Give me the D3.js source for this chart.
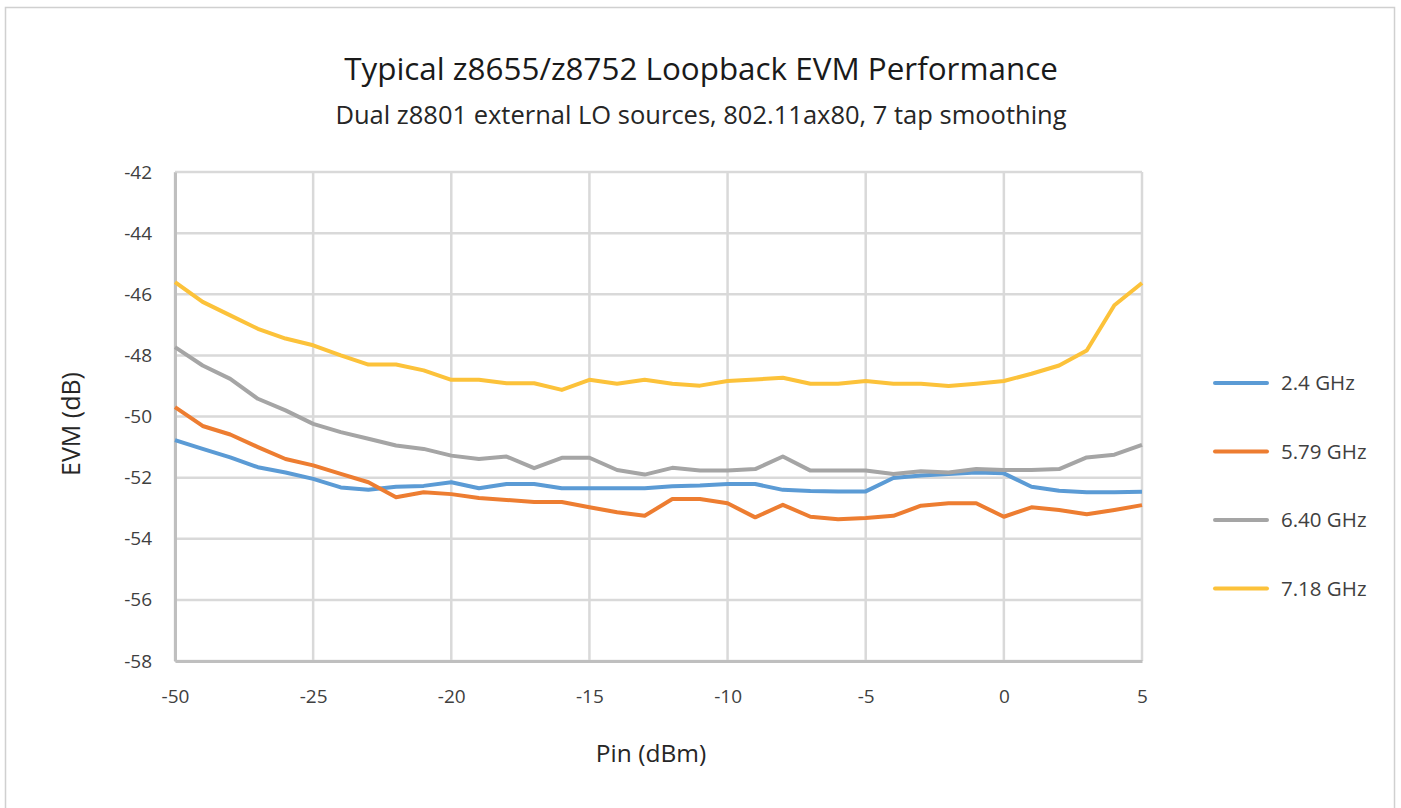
<!DOCTYPE html>
<html>
<head>
<meta charset="utf-8">
<script src="https://cdn.jsdelivr.net/npm/d3@7"></script>
<style>
  body { margin: 0; background: #fff; }
  svg { font-family: "Open Sans", Lato, sans-serif; }
</style>
</head>
<body>
<svg width="1401" height="808"></svg>
<script>
// category axis: first five points are sparse, then 1 dB steps
var pin = [-50, -45, -40, -35, -30, -25, -24, -23, -22, -21, -20, -19, -18, -17, -16, -15,
  -14, -13, -12, -11, -10, -9, -8, -7, -6, -5, -4, -3, -2, -1, 0, 1, 2, 3, 4, 5];
var tickLabels = [-50, -25, -20, -15, -10, -5, 0, 5];
var yTicks = [-42, -44, -46, -48, -50, -52, -54, -56, -58];
var seriesNames = ["2.4 GHz", "5.79 GHz", "6.40 GHz", "7.18 GHz"];

var evm24 = [-50.77, -51.06, -51.34, -51.66, -51.83, -52.04, -52.32, -52.40, -52.30, -52.27,
  -52.15, -52.35, -52.21, -52.21, -52.35, -52.35, -52.35, -52.35, -52.28, -52.26,
  -52.21, -52.21, -52.40, -52.44, -52.45, -52.45, -52.01, -51.93, -51.88, -51.83,
  -51.86, -52.30, -52.43, -52.48, -52.48, -52.46];
var evm579 = [-49.69, -50.31, -50.59, -51.00, -51.39, -51.60, -51.88, -52.15, -52.64, -52.48,
  -52.54, -52.67, -52.73, -52.80, -52.80, -52.97, -53.13, -53.25, -52.70, -52.70,
  -52.84, -53.30, -52.89, -53.28, -53.36, -53.32, -53.25, -52.92, -52.84, -52.84,
  -53.28, -52.97, -53.06, -53.20, -53.06, -52.90];
var evm640 = [-47.73, -48.33, -48.77, -49.42, -49.80, -50.24, -50.51, -50.73, -50.95, -51.06,
  -51.28, -51.39, -51.31, -51.69, -51.35, -51.35, -51.75, -51.90, -51.68, -51.77,
  -51.77, -51.72, -51.31, -51.77, -51.77, -51.77, -51.88, -51.79, -51.83, -51.72,
  -51.75, -51.75, -51.72, -51.34, -51.25, -50.93];
var evm718 = [-45.60, -46.25, -46.69, -47.13, -47.45, -47.67, -48.00, -48.30, -48.30, -48.49,
  -48.80, -48.80, -48.91, -48.91, -49.13, -48.80, -48.93, -48.80, -48.93, -48.99,
  -48.84, -48.79, -48.73, -48.93, -48.93, -48.84, -48.93, -48.93, -49.00, -48.93,
  -48.84, -48.60, -48.33, -47.84, -46.36, -45.63];

var colors = ["#5b9bd5", "#ed7d31", "#a5a5a5", "#fcc23a"];
var allSeries = [evm24, evm579, evm640, evm718];

var svg = d3.select("svg");

// outer chart border
svg.append("rect")
   .attr("x", 5.5).attr("y", 7.5)
   .attr("width", 1389).attr("height", 820)
   .attr("fill", "none")
   .attr("stroke", "#d0d0d0")
   .attr("stroke-width", 1.5);

var plotLeft = 175, plotRight = 1142, plotTop = 172, plotBottom = 661;

var xScale = d3.scalePoint().domain(pin).range([plotLeft, plotRight]);
var yScale = d3.scaleLinear().domain([-58, -42]).range([plotBottom, plotTop]);

// gridlines
svg.append("g")
   .selectAll("line")
   .data(yTicks)
   .enter().append("line")
   .attr("x1", plotLeft).attr("x2", plotRight)
   .attr("y1", function(d) { return yScale(d); })
   .attr("y2", function(d) { return yScale(d); })
   .attr("stroke", "#d9d9d9")
   .attr("stroke-width", 2.5);

svg.append("g")
   .selectAll("line")
   .data(tickLabels)
   .enter().append("line")
   .attr("x1", function(d) { return xScale(d); })
   .attr("x2", function(d) { return xScale(d); })
   .attr("y1", plotTop).attr("y2", plotBottom)
   .attr("stroke", "#d9d9d9")
   .attr("stroke-width", 2.5);

// axes (plain hyphen for negatives, like the original)
var fmt = function(d) { return String(d); };
var xAxis = svg.append("g")
   .attr("transform", "translate(0," + plotBottom + ")")
   .call(d3.axisBottom(xScale).tickValues(tickLabels).tickFormat(fmt).tickSize(0).tickPadding(29));
var yAxis = svg.append("g")
   .attr("transform", "translate(" + plotLeft + ",0)")
   .call(d3.axisLeft(yScale).tickValues(yTicks).tickFormat(fmt).tickSize(0).tickPadding(23));

[xAxis, yAxis].forEach(function(a) {
  a.select(".domain").attr("stroke", "#bfbfbf").attr("stroke-width", 3);
  a.selectAll("text").attr("font-size", 19).attr("fill", "#404040")
   .attr("font-family", "'Open Sans', sans-serif");
});

// series lines
var line = d3.line()
   .x(function(d, i) { return xScale(pin[i]); })
   .y(function(d) { return yScale(d); });

svg.append("g")
   .selectAll("path")
   .data(allSeries)
   .enter().append("path")
   .attr("d", line)
   .attr("fill", "none")
   .attr("stroke", function(d, i) { return colors[i]; })
   .attr("stroke-width", 4)
   .attr("stroke-linejoin", "round");

// titles
svg.append("text")
   .attr("x", 701).attr("y", 80)
   .attr("text-anchor", "middle")
   .attr("font-size", 31.4)
   .attr("fill", "#1a1a1a")
   .text("Typical z8655/z8752 Loopback EVM Performance");

svg.append("text")
   .attr("x", 701).attr("y", 124)
   .attr("text-anchor", "middle")
   .attr("font-size", 25.5)
   .attr("fill", "#262626")
   .text("Dual z8801 external LO sources, 802.11ax80, 7 tap smoothing");

svg.append("text")
   .attr("x", 651).attr("y", 762)
   .attr("text-anchor", "middle")
   .attr("font-size", 24.5)
   .attr("fill", "#262626")
   .text("Pin (dBm)");

svg.append("text")
   .attr("transform", "translate(80,424) rotate(-90)")
   .attr("text-anchor", "middle")
   .attr("font-size", 25)
   .attr("fill", "#262626")
   .text("EVM (dB)");

// legend
var legend = svg.append("g")
   .selectAll("g")
   .data(seriesNames)
   .enter().append("g")
   .attr("transform", function(d, i) { return "translate(1215," + (383 + i * 68.5) + ")"; });

legend.append("line")
   .attr("x1", 0).attr("x2", 52)
   .attr("stroke", function(d, i) { return colors[i]; })
   .attr("stroke-width", 4)
   .attr("stroke-linecap", "round");

legend.append("text")
   .attr("x", 66).attr("dy", "0.35em")
   .attr("font-size", 20.5)
   .attr("fill", "#404040")
   .text(function(d) { return d; });
</script>
</body>
</html>
